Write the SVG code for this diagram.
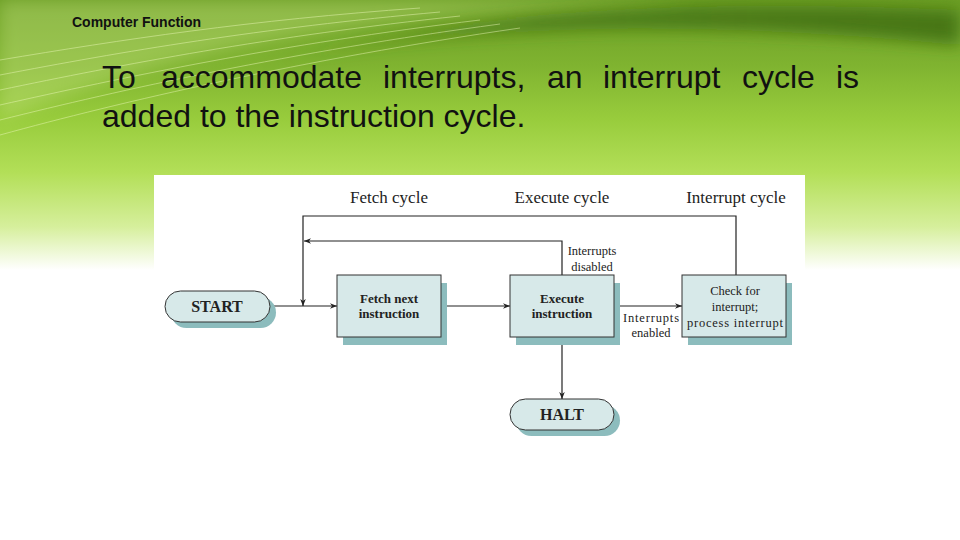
<svg xmlns="http://www.w3.org/2000/svg" width="960" height="540" viewBox="0 0 960 540">
<defs>
<linearGradient id="bg" x1="0" y1="0" x2="0" y2="1">
<stop offset="0" stop-color="#6c9f25"/>
<stop offset="0.12" stop-color="#7fb330"/>
<stop offset="0.22" stop-color="#98cc3c"/>
<stop offset="0.32" stop-color="#b3df58"/>
<stop offset="0.42" stop-color="#d6ef9c"/>
<stop offset="0.5" stop-color="#ffffff"/>
<stop offset="1" stop-color="#ffffff"/>
</linearGradient>
<linearGradient id="dark" x1="0" y1="0" x2="1" y2="0">
<stop offset="0" stop-color="#3c6a10" stop-opacity="0"/>
<stop offset="0.4" stop-color="#3c6a10" stop-opacity="0.7"/>
<stop offset="1" stop-color="#3c6a10" stop-opacity="0.8"/>
</linearGradient>
<filter id="blur" x="-10%" y="-50%" width="120%" height="200%"><feGaussianBlur stdDeviation="8"/></filter>
<marker id="arr" viewBox="0 0 10 10" refX="10" refY="5" markerWidth="7" markerHeight="7" markerUnits="userSpaceOnUse" orient="auto">
<path d="M0,1 L10,5 L0,9 L3,5 Z" fill="#222"/>
</marker>
<style>
.title{font-family:"Liberation Sans",Arial,sans-serif;font-weight:bold;font-size:14px;fill:#111}
.body{font-family:"Liberation Sans",Arial,sans-serif;font-size:32px;fill:#111}
.hdr{font-family:"Liberation Serif","Times New Roman",serif;font-size:17px;fill:#222;text-anchor:middle}
.bx{font-family:"Liberation Serif","Times New Roman",serif;font-size:13px;font-weight:bold;fill:#222;text-anchor:middle}
.lbl{font-family:"Liberation Serif","Times New Roman",serif;font-size:12.5px;fill:#222;text-anchor:middle}
.term{font-family:"Liberation Serif","Times New Roman",serif;font-size:16px;font-weight:bold;fill:#222;text-anchor:middle}
.fill{fill:#d7e9e9;stroke:#333;stroke-width:1}
.shadow{fill:#8cbcbd}
.ln{fill:none;stroke:#222;stroke-width:1.2}
</style>
</defs>
<g id="background">
<rect x="0" y="0" width="960" height="540" fill="url(#bg)"/>
<path d="M250,70 C450,20 700,20 960,45 L960,10 C700,0 450,5 250,70 Z" fill="url(#dark)" filter="url(#blur)"/>
<path d="M0,120 C150,60 300,20 600,5 L700,0 L0,0 Z" fill="#cfe98a" opacity="0.35" filter="url(#blur)"/>
<g fill="none" stroke="#eaf7b8" stroke-width="0.8" opacity="0.6">
<path d="M0,60 C120,40 250,20 420,8"/>
<path d="M0,75 C120,52 260,28 440,12"/>
<path d="M0,90 C120,65 270,36 460,16"/>
<path d="M0,105 C120,78 280,44 480,20"/>
<path d="M0,120 C120,90 290,52 500,24"/>
<path d="M0,135 C120,102 300,60 520,28"/>
</g>
<rect x="154" y="175" width="651" height="365" fill="#ffffff"/>
</g>
<g id="heading">
<text class="title" x="72" y="27">Computer Function</text>
<text class="body" y="88"><tspan x="102">To</tspan><tspan x="161">accommodate</tspan><tspan x="383">interrupts,</tspan><tspan x="547">an</tspan><tspan x="603">interrupt</tspan><tspan x="742">cycle</tspan><tspan x="836">is</tspan></text>
<text class="body" x="102" y="127">added to the instruction cycle.</text>
</g>
<g id="headers">
<text class="hdr" x="389" y="203">Fetch cycle</text>
<text class="hdr" x="562" y="203">Execute cycle</text>
<text class="hdr" x="736" y="203">Interrupt cycle</text>
</g>
<g id="connectors">
<line class="ln" x1="270" y1="306" x2="337" y2="306" marker-end="url(#arr)"/>
<polyline class="ln" points="736,275 736,216 303,216 303,306" marker-end="url(#arr)"/>
<polyline class="ln" points="562,275 562,241 304,241" marker-end="url(#arr)"/>
<line class="ln" x1="441" y1="306" x2="510" y2="306" marker-end="url(#arr)"/>
<line class="ln" x1="614" y1="306" x2="682" y2="306" marker-end="url(#arr)"/>
<line class="ln" x1="562" y1="337" x2="562" y2="399" marker-end="url(#arr)"/>
<text class="lbl" x="592" y="255">Interrupts</text>
<text class="lbl" x="592" y="271">disabled</text>
<text class="lbl" x="651" y="322" textLength="56">Interrupts</text>
<text class="lbl" x="651" y="337">enabled</text>
</g>
<g id="start">
<rect class="shadow" x="171" y="297" width="105" height="31" rx="15.5"/>
<rect class="fill" x="165" y="291" width="105" height="31" rx="15.5"/>
<text class="term" x="217" y="312">START</text>
</g>
<g id="fetch">
<rect class="shadow" x="343" y="283" width="104" height="62"/>
<rect class="fill" x="337" y="275" width="104" height="62"/>
<text class="bx" x="389" y="303">Fetch next</text>
<text class="bx" x="389" y="318">instruction</text>
</g>
<g id="execute">
<rect class="shadow" x="516" y="283" width="104" height="62"/>
<rect class="fill" x="510" y="275" width="104" height="62"/>
<text class="bx" x="562" y="303">Execute</text>
<text class="bx" x="562" y="318">instruction</text>
</g>
<g id="check">
<rect class="shadow" x="688" y="283" width="104" height="62"/>
<rect class="fill" x="682" y="275" width="104" height="62"/>
<text class="lbl" x="735" y="295">Check for</text>
<text class="lbl" x="735" y="311">interrupt;</text>
<text class="lbl" x="735" y="327" textLength="96">process interrupt</text>
</g>
<g id="halt">
<rect class="shadow" x="516" y="405" width="104" height="31" rx="15.5"/>
<rect class="fill" x="510" y="399" width="104" height="31" rx="15.5"/>
<text class="term" x="562" y="420">HALT</text>
</g>
</svg>
